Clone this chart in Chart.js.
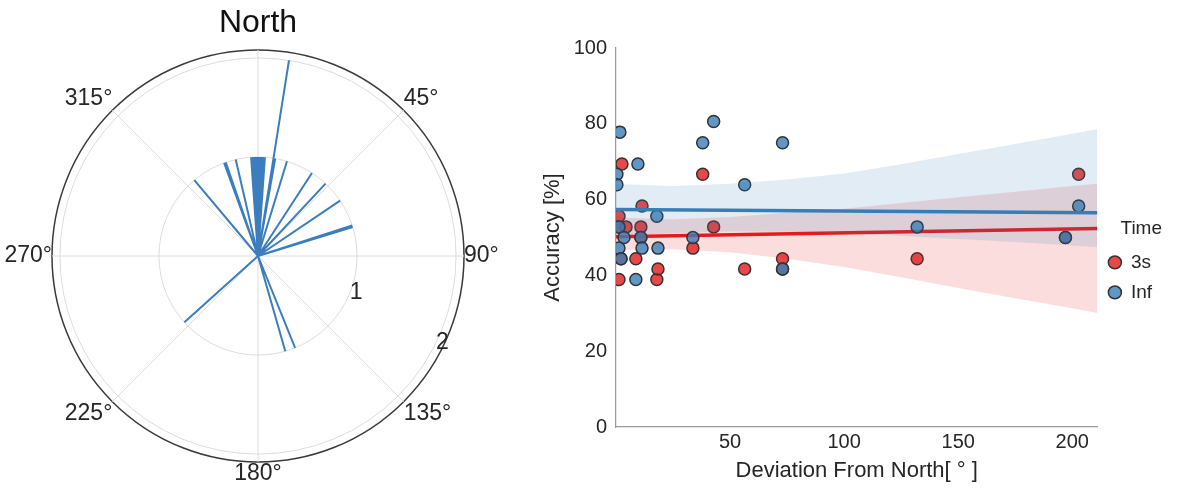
<!DOCTYPE html>
<html>
<head>
<meta charset="utf-8">
<script src="https://cdn.jsdelivr.net/npm/chart.js@4.4.1/dist/chart.umd.min.js"></script>
<style>
  html, body { margin: 0; padding: 0; background: #fff; }
  #wrap { position: relative; width: 1195px; height: 491px; }
  #polar { position: absolute; left: 0; top: 0; }
  #scatter { position: absolute; left: 520px; top: 0; }
</style>
</head>
<body>
<div id="wrap">
  <canvas id="polar" width="520" height="491"></canvas>
  <canvas id="scatter" width="675" height="491"></canvas>
</div>
<script>
// ---- polar panel: heading of each response (deg, clockwise from north) and its length
const spokeAngles  = [320, 340, 341, 347, 356, 357, 358, 359, 0, 1, 2, 3, 4, 9, 10, 17, 33, 43, 56, 72, 73, 158, 164, 228];
const spokeLengths = [1, 1, 1, 1, 1, 1, 1, 1, 1, 1, 1, 1, 1, 2, 1, 1, 1, 1, 1, 1, 1, 1, 1, 1];
const angleTicks = [45, 90, 135, 180, 225, 270, 315];
const angleTickLabels = ['45°', '90°', '135°', '180°', '225°', '270°', '315°'];
const rTicks = [1, 2];
const rTickLabels = ['1', '2'];
const rLabelAngles = [112, 116];
const rMax = 2.08;

// ---- scatter panel: deviation from north vs accuracy
const dev3s = [2.6, 1.3, 1.3, 1.3, 2.2, 4.4, 8.7, 11.4, 10.9, 10.9, 17.9, 18.4, 33.7, 38, 42.8, 56.4, 73, 73, 132, 197, 202.8];
const acc3s = [69.4, 55.6, 38.9, 52.8, 44.4, 52.8, 44.4, 58.3, 52.8, 50, 38.9, 41.7, 47.2, 66.7, 52.8, 41.7, 44.4, 41.7, 44.4, 50, 66.7];
const devInf = [1.7, 9.6, 42.8, 38, 73, 0.4, 0.4, 56.4, 17.9, 1.3, 3.5, 10.9, 33.7, 1.3, 11.4, 18.4, 2.2, 73, 8.7, 132, 197, 202.8];
const accInf = [77.8, 69.4, 80.6, 75, 75, 66.7, 63.9, 63.9, 55.6, 52.8, 50, 50, 50, 47.2, 47.2, 47.2, 44.4, 41.7, 38.9, 52.8, 50, 58.3];
const fitX = [0, 211];
const fit3s = [50.2, 52.4];
const fitInf = [57.4, 56.5];
const bandX = [0, 25, 50, 75, 100, 125, 150, 175, 200, 211];
const band3sHi = [55.3, 54.8, 55.4, 56.5, 57.6, 59.1, 60.6, 62.1, 63.6, 64.2];
const band3sLo = [46.6, 46.9, 46.1, 44.4, 42.2, 39.5, 36.7, 34.0, 31.3, 30.1];
const bandInfHi = [64.1, 63.6, 64.2, 65.3, 66.9, 69.3, 72.0, 74.7, 77.4, 78.6];
const bandInfLo = [50.3, 51.2, 51.6, 51.5, 51.1, 50.4, 49.6, 48.8, 47.9, 47.5];
const xTicks = [50, 100, 150, 200];
const yTicks = [0, 20, 40, 60, 80, 100];

const family = '"Liberation Sans", Arial, sans-serif';
const textColor = '#262626';
Chart.defaults.font.family = family;
Chart.defaults.color = textColor;

// radar needs one label per slot, half a degree apart, so spokes are separated by a zero
const perDeg = 2;
const slots = Array.from({length: 360 * perDeg}, (_, i) => i / perDeg);
const spokeData = slots.map(() => 0);
spokeAngles.forEach((a, i) => { spokeData[a * perDeg] = spokeLengths[i]; });

const polarLabels = {
  id: 'polarLabels',
  afterDraw(chart) {
    const r = chart.scales.r;
    const ctx = chart.ctx;
    ctx.save();
    ctx.fillStyle = textColor;
    ctx.font = '23px ' + family;
    angleTicks.forEach((a, i) => {
      const p = r.getPointPosition(a * perDeg, r.drawingArea);
      ctx.textAlign = a === 180 ? 'center' : (a < 180 ? 'left' : 'right');
      ctx.textBaseline = (a === 90 || a === 270) ? 'middle' : (a > 90 && a < 270 ? 'top' : 'bottom');
      ctx.fillText(angleTickLabels[i], p.x, p.y);
    });
    rTicks.forEach((v, i) => {
      const p = r.getPointPositionForValue(rLabelAngles[i] * perDeg, v);
      ctx.textAlign = 'left';
      ctx.textBaseline = 'middle';
      ctx.fillText(rTickLabels[i], p.x, p.y);
    });
    ctx.restore();
  }
};

new Chart(document.getElementById('polar'), {
  type: 'radar',
  data: {
    labels: slots,
    datasets: [{
      data: spokeData,
      borderColor: '#3b7dbd',
      borderWidth: 2,
      borderJoinStyle: 'bevel',
      pointRadius: 0,
      fill: false
    }]
  },
  options: {
    responsive: false,
    animation: false,
    layout: { padding: { left: 52, right: 56, top: 0, bottom: 28.6 } },
    plugins: {
      legend: { display: false },
      tooltip: { enabled: false },
      title: {
        display: true,
        text: 'North',
        color: '#111',
        font: { size: 32, weight: 'normal' },
        padding: { top: 4, bottom: 8 }
      }
    },
    scales: {
      r: {
        min: 0,
        max: rMax,
        startAngle: 0,
        afterBuildTicks: s => { s.ticks = [0, ...rTicks, rMax].map(v => ({ value: v })); },
        ticks: { display: false },
        pointLabels: { display: false },
        grid: {
          circular: true,
          color: c => (c.tick && c.tick.value === rMax ? '#3a3a3a' : '#dcdcdc'),
          lineWidth: c => (c.tick && c.tick.value === rMax ? 1.5 : 1)
        },
        angleLines: {
          color: '#dcdcdc',
          lineWidth: c => (c.index % (45 * perDeg) === 0 ? 1 : 0)
        }
      }
    }
  },
  plugins: [polarLabels]
});

const pts = (xs, ys) => xs.map((x, i) => ({ x: x, y: ys[i] }));
const red = '#e41a1c', blue = '#377eb8';

new Chart(document.getElementById('scatter'), {
  type: 'scatter',
  data: {
    datasets: [
      { label: '3s', data: pts(dev3s, acc3s), backgroundColor: 'rgba(228,26,28,0.8)', borderColor: '#333',
        borderWidth: 1.5, pointRadius: 6, clip: 0, order: 6 },
      { label: 'Inf', data: pts(devInf, accInf), backgroundColor: 'rgba(55,126,184,0.8)', borderColor: '#333',
        borderWidth: 1.5, pointRadius: 6, clip: 0, order: 3 },
      { type: 'line', data: pts(bandX, band3sHi), fill: '+1', backgroundColor: 'rgba(228,26,28,0.15)',
        borderWidth: 0, pointRadius: 0, order: 5 },
      { type: 'line', data: pts(bandX, band3sLo), fill: false, borderWidth: 0, pointRadius: 0, order: 5 },
      { type: 'line', data: pts(fitX, fit3s), borderColor: red, borderWidth: 3.5, pointRadius: 0, fill: false, order: 4 },
      { type: 'line', data: pts(bandX, bandInfHi), fill: '+1', backgroundColor: 'rgba(55,126,184,0.15)',
        borderWidth: 0, pointRadius: 0, order: 2 },
      { type: 'line', data: pts(bandX, bandInfLo), fill: false, borderWidth: 0, pointRadius: 0, order: 2 },
      { type: 'line', data: pts(fitX, fitInf), borderColor: blue, borderWidth: 3.5, pointRadius: 0, fill: false, order: 1 }
    ]
  },
  options: {
    responsive: false,
    animation: false,
    layout: { padding: { left: 0, right: 33, top: 48, bottom: 7 } },
    plugins: {
      tooltip: { enabled: false },
      legend: {
        position: 'right',
        align: 'center',
        title: { display: true, text: 'Time', position: 'end', color: textColor, font: { size: 19 }, padding: 0 },
        labels: {
          usePointStyle: true,
          pointStyle: 'circle',
          pointStyleWidth: 13,
          boxHeight: 9,
          padding: 11,
          color: textColor,
          font: { size: 19 },
          filter: item => item.datasetIndex < 2,
          sort: (a, b) => a.datasetIndex - b.datasetIndex
        }
      }
    },
    scales: {
      x: {
        type: 'linear',
        min: 0,
        max: 211,
        afterBuildTicks: s => { s.ticks = xTicks.map(v => ({ value: v })); },
        afterFit: s => { s.height = 57; },
        grid: { display: false, drawTicks: false },
        border: { display: true, color: '#9a9a9a', width: 1.25 },
        ticks: { color: textColor, font: { size: 20 }, padding: 3, maxRotation: 0 },
        title: { display: true, text: 'Deviation From North[ ° ]', color: textColor, font: { size: 22 },
                 padding: { top: 0, bottom: 0 } }
      },
      y: {
        min: 0,
        max: 100,
        afterBuildTicks: s => { s.ticks = yTicks.map(v => ({ value: v })); },
        afterFit: s => { s.width = 96; },
        grid: { display: false, drawTicks: false },
        border: { display: true, color: '#9a9a9a', width: 1.25 },
        ticks: { color: textColor, font: { size: 20 }, padding: 9 },
        title: { display: true, text: 'Accuracy [%]', color: textColor, font: { size: 22 },
                 padding: { top: 20, bottom: 0 } }
      }
    }
  }
});
</script>
</body>
</html>
